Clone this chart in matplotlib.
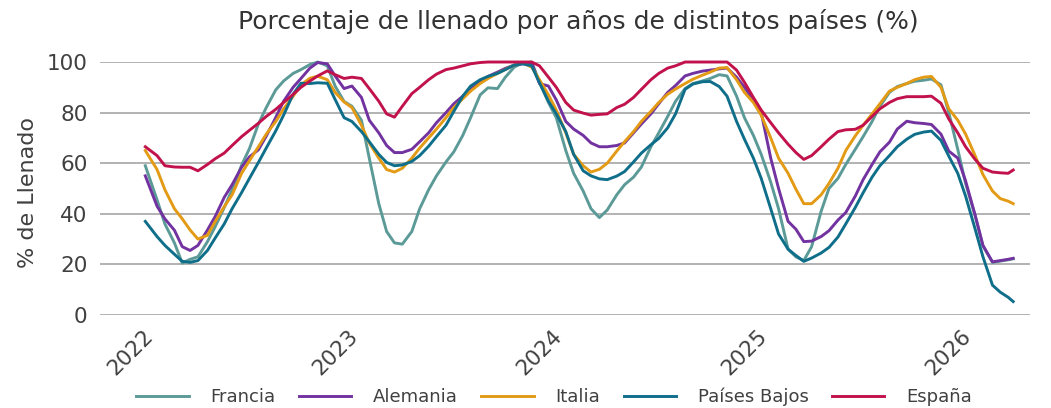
import matplotlib
matplotlib.use("Agg")
import matplotlib.pyplot as plt
import matplotlib.dates as mdates
import pandas as pd

# Fechas: primer punto, días 1 y 15 de cada mes, último punto
fechas = (
    [pd.Timestamp("2021-12-11")]
    + list(pd.date_range("2022-01-01", "2026-03-01", freq="SMS"))
    + [pd.Timestamp("2026-03-10")]
)

# Porcentaje de llenado (%)
espana = [
    66.5,
    63, 59, 58.5, 58.4, 58.4, 57, 59.5, 61.8, 64, 67, 70.5, 73,
    75.8, 78.5, 81.3, 84, 87.2, 90, 92.5, 94.5, 96.5, 95, 93.5, 94,
    93.5, 89.5, 84.5, 79.5, 78.2, 82.5, 87.5, 90, 93, 95.2, 97, 97.6,
    98.5, 99.3, 99.8, 100, 100, 100, 100, 100, 100, 98.5, 94, 90,
    84, 81, 79.8, 79, 79.3, 79.5, 82, 83.3, 86, 89.2, 93, 95.5,
    97.6, 98.5, 100, 100, 100, 100, 100, 100, 96.8, 92, 86, 81,
    76, 72, 67.5, 64.2, 61.5, 63, 66.5, 69.5, 72.5, 73.2, 73.4, 75,
    78.5, 81.5, 84, 85.5, 86.3, 86.3, 86.3, 86.5, 83.7, 77.5, 72, 66.5,
    61.5, 58, 56.5, 56.2, 56,
    57.3,
]
francia = [
    59,
    45.5, 36, 28.5, 20.5, 22, 23, 29, 35, 42.5, 49.5, 59.2, 65.8,
    75.5, 82, 89, 92.5, 95.5, 97, 99, 100, 98.5, 90.5, 84.4, 82.5,
    77, 62, 44, 33, 28.5, 28, 33, 42, 49.5, 55, 60.5, 64.5,
    71, 78, 87, 89.8, 89.5, 94, 98, 99.5, 100, 92, 84, 78,
    65, 56, 49, 42, 38.5, 41.5, 47.5, 51.5, 54.5, 58.5, 66.5, 72,
    78.5, 84.5, 89.5, 91.5, 92.5, 93.5, 95, 94.5, 86.5, 78, 71, 63.5,
    52.5, 42, 26, 23, 21.5, 27, 41, 50, 54, 59.5, 65.5, 70.5,
    76.5, 82.5, 88, 90.3, 91.5, 92.4, 92.8, 93.3, 91, 80, 65.5, 52,
    39.3, 27.3, 20.8, 21.3, 21.8,
    22.2,
]
alemania = [
    55,
    43, 38, 33.5, 27, 25.5, 27.5, 33.6, 39, 46.5, 51.5, 58.4, 62.5,
    65.3, 70.7, 78.1, 84.5, 90, 93.5, 97.6, 99.8, 99.3, 94.5, 89.5, 90.5,
    86, 77, 72, 67, 64.2, 64.2, 65.5, 68.5, 72, 76, 80, 83.5,
    86.5, 89.5, 92.5, 94.3, 96, 97.5, 98.8, 99.3, 99.7, 91.5, 90.5, 85,
    76.5, 73.5, 71, 68, 66.5, 66.5, 67, 68, 72, 75.5, 79.5, 83.5,
    88, 90.7, 94.5, 95.5, 96.4, 96.8, 97.3, 97.6, 94, 90, 85, 80,
    62, 50, 37, 33.9, 29, 29.2, 31, 33.3, 37.5, 40.5, 47, 53.5,
    59.5, 64.5, 68.3, 73.5, 76.6, 76, 75.7, 75.3, 71.5, 64.8, 62, 53,
    39.5, 27.5, 21, 21.5, 22,
    22.4,
]
italia = [
    65,
    57.5, 49.5, 42, 38, 33.6, 30, 31.5, 37, 42.8, 47.5, 56, 61,
    66.5, 71.5, 76.5, 81.5, 86.5, 91, 93.6, 94.4, 93, 88, 84.2, 82,
    75, 68, 62, 57.5, 56.5, 58, 62, 66, 70, 73.5, 78, 82,
    85.5, 88.5, 91.5, 93.5, 95.5, 97.1, 98.8, 99.7, 98, 93, 87, 81,
    72, 63.5, 59, 56.5, 57.6, 60, 64.8, 68.5, 72.5, 76.5, 80.5, 84,
    87.3, 89.3, 91.5, 93.2, 94.8, 96, 97.6, 97.8, 93, 88, 84, 79,
    70, 62, 56, 49.7, 44, 44, 47.5, 52, 58, 65, 70.8, 75,
    79.5, 83.5, 88.5, 90, 91.5, 93, 94, 94.3, 90, 81.5, 77, 71.5,
    63, 55.5, 49, 46, 45,
    44,
]
paises_bajos = [
    37,
    31, 27.5, 24, 21.2, 20.8, 21.5, 25.5, 30.5, 36, 42, 48.4, 54,
    60.3, 66, 72.8, 79, 87.3, 91.6, 91.5, 91.8, 91.6, 85.2, 78, 76.5,
    72.5, 68.5, 63.5, 60.3, 59, 59.3, 60.7, 63, 66.7, 70.5, 75, 80.5,
    86.5, 90.5, 93, 94.3, 95.5, 97, 98.8, 99.3, 98.5, 91.8, 84.5, 79.5,
    72.5, 63.5, 57, 55, 53.8, 53.5, 54.9, 56.7, 60.5, 64, 67.3, 69.8,
    74, 79.5, 89.2, 91.3, 92.2, 92.3, 90.3, 86.5, 76.5, 69.5, 62, 54,
    42, 32, 26, 23.5, 21.2, 22.5, 24.5, 26.7, 30.8, 36, 42.5, 48.3,
    54.5, 59, 63, 66.5, 69.5, 71.4, 72.3, 72.7, 69, 62.8, 56, 47,
    34, 23, 11.8, 9, 7,
    5.3,
]

series = [
    ("Francia", francia, "#5B9A97"),
    ("Alemania", alemania, "#7232A0"),
    ("Italia", italia, "#E39A14"),
    ("Países Bajos", paises_bajos, "#0F6E8A"),
    ("España", espana, "#C1124C"),
]

plt.rcParams["font.family"] = ["DejaVu Sans"]
texto = "#404040"

fig = plt.figure(figsize=(10.51, 4.08), dpi=100)
ax = fig.add_axes([0.0951, 0.228, 0.8849, 0.620])

for nombre, valores, color in series:
    ax.plot(fechas, valores, color=color, lw=2.1, label=nombre, clip_on=False)

ax.set_ylim(0, 100)
ax.set_yticks([0, 20, 40, 60, 80, 100])
ax.set_xlim(pd.Timestamp("2021-09-21"), pd.Timestamp("2026-04-09"))
ax.xaxis.set_major_locator(mdates.YearLocator())
ax.xaxis.set_major_formatter(mdates.DateFormatter("%Y"))

ax.grid(axis="y", color="#A6A6A6", lw=1.2)
ax.set_axisbelow(True)
for s in ax.spines.values():
    s.set_visible(False)
ax.tick_params(axis="both", length=0, labelsize=15.5, labelcolor=texto)
ax.tick_params(axis="y", pad=9)
ax.tick_params(axis="x", pad=8)
for lab in ax.get_xticklabels():
    lab.set_rotation(45)
    lab.set_ha("right")

fig.text(578 / 1051, 1 - 22 / 408,
         "Porcentaje de llenado por años de distintos países (%)",
         ha="center", va="center", fontsize=18, color="#333333")
fig.text(28 / 1051, 1 - 192 / 408, "% de Llenado", rotation=90,
         ha="center", va="center", fontsize=16, color=texto)

fig.legend(loc="center", bbox_to_anchor=(554 / 1051, 11 / 408), ncol=5,
           frameon=False, fontsize=13, handlelength=2.9, handletextpad=1.2,
           columnspacing=1.3, labelcolor=texto)

fig.savefig("out.png", dpi=100)
